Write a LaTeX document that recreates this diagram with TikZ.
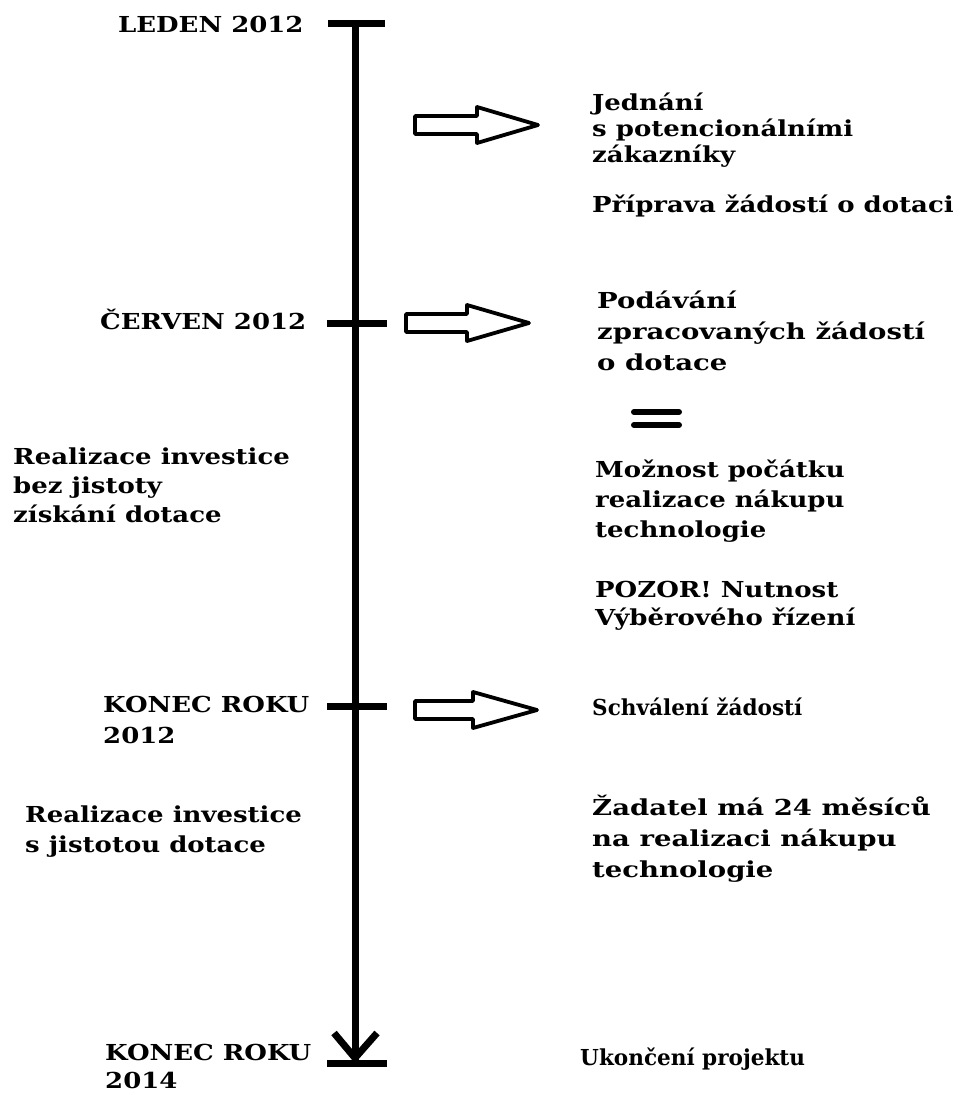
\documentclass[tikz,border=0pt]{standalone}
\usepackage{fontspec}
\setmainfont{DejaVu Serif}
\newfontfamily\fw{DejaVu Serif}[FakeStretch=1.18]
\newfontfamily\fx{DejaVu Serif}[FakeStretch=1.25]
\newfontfamily\fn{DejaVu Serif}[FakeStretch=0.98]
\newcommand\tf[2]{#1\fontsize{22}{#2}\selectfont\bfseries}
\newcommand\bigarrow[4]{% left x, mid y, head base x, tip x
  \draw[blockarrow] (#1,#2-9) -- (#3,#2-9) -- (#3,#2-18) -- (#4,#2) -- (#3,#2+18) -- (#3,#2+9) -- (#1,#2+9) -- cycle;}
\tikzset{
  txt/.style={anchor=base west, align=left, inner sep=0pt},
  tline/.style={line width=7pt, line cap=butt},
  blockarrow/.style={line width=3.8pt, line join=round, fill=white},
  eqbar/.style={line width=6pt, line cap=round}
}
\begin{document}
\begin{tikzpicture}[x=1pt,y=-1pt]
\useasboundingbox[fill=white] (0,0) rectangle (959,1095);
% timeline
\coordinate (top) at (355,23);
\coordinate (bot) at (355,1063);
\draw[tline] (top) -- (bot);
\draw[tline] (328,23) -- (385,23);
\draw[tline] (327,323) -- (387,323);
\draw[tline] (327,706) -- (387,706);
\draw[tline] (327,1063) -- (387,1063);
\draw[tline, line join=miter] (334,1033) -- (355,1058) -- (377,1033);
% block arrows
\bigarrow{415}{125}{477}{538}
\bigarrow{406}{323}{467}{529}
\bigarrow{415}{710}{473}{537}
% equals sign
\draw[eqbar] (634,412) -- (679,412);
\draw[eqbar] (634,425) -- (679,425);
% left labels
\node[txt, font=\tf\fw{30}] (leden) at (118,32) {LEDEN 2012};
\node[txt, font=\tf\fw{30}] (cerven) at (100,329) {ČERVEN 2012};
\node[txt, font=\tf\fw{31}] (konec12) at (103,743) {KONEC ROKU\\2012};
\node[txt, font=\tf\fw{28}] (konec14) at (105,1088) {KONEC ROKU\\2014};
\node[txt, font=\tf\fw{29}] (bez) at (13,522) {Realizace investice\\bez jistoty\\získání dotace};
\node[txt, font=\tf\fw{30}] (s) at (25,852) {Realizace investice\\s jistotou dotace};
% right labels
\node[txt, font=\tf\fw{26}] (jednani) at (592,162) {Jednání\\s potencionálními\\zákazníky};
\node[txt, font=\tf\fw{30}] (priprava) at (592,212) {Příprava žádostí o dotaci};
\node[txt, font=\tf\fx{31}] (podavani) at (597,370) {Podávání\\zpracovaných žádostí\\o dotace};
\node[txt, font=\tf\fw{30}] (moznost) at (595,537) {Možnost počátku\\realizace nákupu\\technologie};
\node[txt, font=\tf\fw{28}] (pozor) at (595,625) {POZOR! Nutnost\\Výběrového řízení};
\node[txt, font=\tf\fn{30}] (schvaleni) at (592,715) {Schválení žádostí};
\node[txt, font=\tf\fx{31}] (zadatel) at (592,877) {Žadatel má 24 měsíců\\na realizaci nákupu\\technologie};
\node[txt, font=\tf\fn{30}] (ukonceni) at (580,1065) {Ukončení projektu};
\end{tikzpicture}
\end{document}
